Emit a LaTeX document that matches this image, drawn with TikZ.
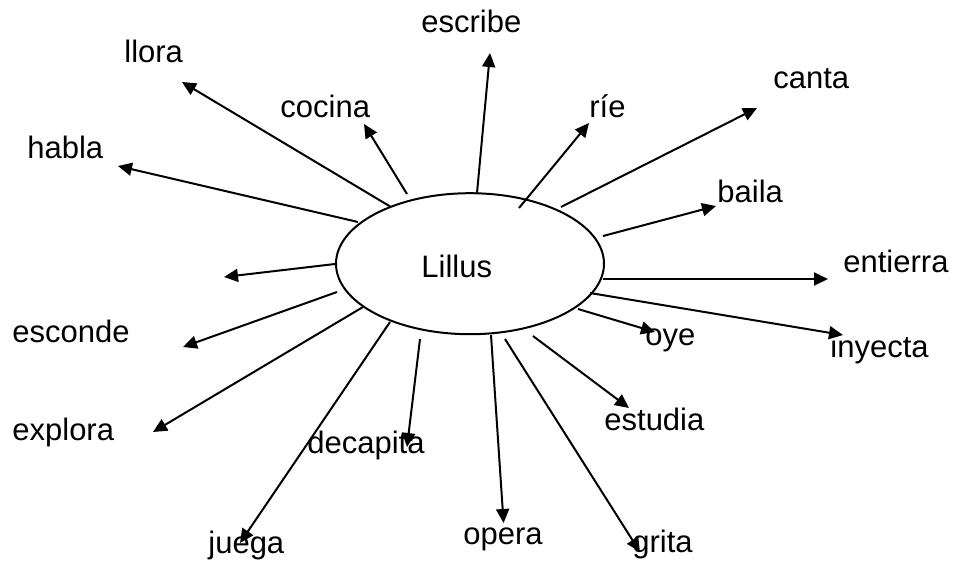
\documentclass[tikz,border=0pt]{standalone}
\usepackage{fontspec}
\setmainfont{Liberation Sans}
\usetikzlibrary{shapes.geometric,arrows.meta}
\begin{document}
\begin{tikzpicture}[x=0.5pt,y=-0.5pt,
  lbl/.style={anchor=base west,inner sep=0pt,font=\fontsize{15.5}{18}\selectfont},
  arr/.style={line width=1pt,-{Triangle[length=7pt,width=6.5pt]}},
  hub/.style={draw,ellipse,line width=1pt,minimum width=134pt,minimum height=70.5pt,inner sep=0pt}]
\useasboundingbox (0,0) rectangle (954,563);
\node[hub] (L) at (470,263.7) {};
\node[lbl] (lil) at (421,277) {Lillus};
% labels
\node[lbl] (llora) at (124,62) {llora};
\node[lbl] (cocina) at (280,117) {cocina};
\node[lbl] (habla) at (27,158) {habla};
\node[lbl] (escribe) at (421,32) {escribe};
\node[lbl] (rie) at (589,117) {ríe};
\node[lbl] (canta) at (773,88) {canta};
\node[lbl] (baila) at (717,202) {baila};
\node[lbl] (entierra) at (843,272) {entierra};
\node[lbl] (inyecta) at (830,357) {inyecta};
\node[lbl] (oye) at (645,345) {oye};
\node[lbl] (estudia) at (604,430) {estudia};
\node[lbl] (grita) at (632,552) {grita};
\node[lbl] (opera) at (463,544) {opera};
\node[lbl] (decapita) at (307,453) {decapita};
\node[lbl] (juega) at (208,553) {juega};
\node[lbl] (explora) at (12,440) {explora};
\node[lbl] (esconde) at (12,342) {esconde};
% start points
\coordinate (s1) at (391,207);   \coordinate (t1) at (182,82);
\coordinate (s2) at (407,194);   \coordinate (t2) at (364,124);
\coordinate (s3) at (358,222);   \coordinate (t3) at (118,166);
\coordinate (s4) at (477,193);   \coordinate (t4) at (490,53);
\coordinate (s5) at (519,208);   \coordinate (t5) at (589,123);
\coordinate (s6) at (561,207);   \coordinate (t6) at (757,108);
\coordinate (s7) at (603,236);   \coordinate (t7) at (716,206);
\coordinate (s8) at (603,279);   \coordinate (t8) at (828,279);
\coordinate (s9) at (590,293);   \coordinate (t9) at (843,335);
\coordinate (s10) at (578,309);  \coordinate (t10) at (655,332);
\coordinate (s11) at (533,336);  \coordinate (t11) at (629,408);
\coordinate (s12) at (505,339);  \coordinate (t12) at (640,552);
\coordinate (s13) at (491,335);  \coordinate (t13) at (503.6,523);
\coordinate (s14) at (420,339);  \coordinate (t14) at (407,447);
\coordinate (s15) at (390,322);  \coordinate (t15) at (240,543);
\coordinate (s16) at (363,307);  \coordinate (t16) at (153,432);
\coordinate (s17) at (337,292);  \coordinate (t17) at (183,347);
\coordinate (s18) at (335,264);  \coordinate (t18) at (224,277);
\foreach \i in {1,...,18} {\draw[arr] (s\i) -- (t\i);}
\end{tikzpicture}
\end{document}
